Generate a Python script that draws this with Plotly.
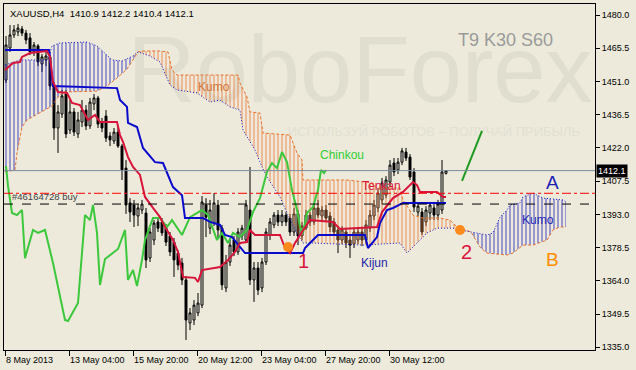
import plotly.graph_objects as go

# ---------------- data (bar index, prices) ----------------
bars = list(range(111))
opens = [1451.6,1465.6,1471.3,1472.6,1473.9,1472.1,1470.0,1463.9,1466.5,1458.6,
 1460.4,1461.7,1449.0,1430.7,1436.8,1445.5,1429.8,1437.7,1428.1,1433.3,
 1438.5,1431.6,1441.2,1443.8,1433.3,1435.9,1427.2,1425.0,1428.9,1422.8,
 1413.2,1398.0,1397.1,1392.3,1394.9,1393.6,1374.0,1381.8,1389.7,1389.7,
 1387.0,1383.6,1380.9,1376.1,1371.8,1364.4,1345.6,1346.9,1350.0,1353.4,
 1397.1,1387.0,1389.2,1397.1,1387.0,1360.9,1372.2,1381.8,1376.6,1383.6,
 1381.8,1394.9,1364.4,1369.6,1360.9,1372.2,1384.0,1388.4,1392.7,1389.7,
 1392.7,1391.4,1385.3,1393.2,1383.6,1387.0,1392.7,1389.7,1395.8,1392.3,
 1394.9,1392.3,1389.7,1386.2,1381.8,1385.3,1381.8,1380.1,1381.8,1385.3,
 1381.8,1387.0,1392.3,1395.8,1399.3,1401.4,1407.1,1415.4,1412.4,1415.8,
 1420.2,1418.0,1411.5,1394.0,1394.0,1389.7,1393.6,1395.8,1392.7,1394.9,
 1410.9]
highs = [1470.8,1475.6,1475.6,1476.1,1475.2,1473.5,1472.1,1468.2,1467.3,1463.0,
 1463.9,1462.5,1450.8,1440.7,1447.3,1447.3,1442.9,1439.4,1437.7,1442.9,
 1440.7,1443.8,1445.5,1444.7,1435.1,1438.5,1428.9,1430.7,1431.1,1423.7,
 1416.7,1400.1,1399.3,1397.5,1399.3,1395.8,1387.0,1390.5,1391.4,1391.4,
 1388.8,1385.3,1382.7,1377.4,1374.0,1366.1,1352.1,1355.6,1358.7,1401.0,
 1400.1,1399.3,1402.3,1399.3,1388.4,1375.3,1381.8,1383.6,1387.0,1388.4,
 1399.3,1413.7,1372.2,1372.2,1374.0,1387.0,1391.4,1394.0,1394.9,1394.9,
 1394.0,1393.2,1395.8,1394.9,1389.7,1394.9,1394.0,1397.5,1399.3,1396.6,
 1397.1,1394.0,1391.4,1387.9,1387.9,1387.0,1383.6,1387.0,1387.0,1387.0,
 1390.5,1394.9,1399.3,1404.5,1408.9,1409.7,1416.7,1417.6,1417.6,1422.0,
 1422.0,1419.3,1413.2,1398.4,1395.8,1396.6,1398.4,1397.5,1399.3,1416.7,
 1412.2]
lows = [1450.3,1463.9,1470.0,1470.8,1470.8,1467.3,1462.5,1462.1,1457.7,1455.1,
 1457.7,1447.3,1425.5,1419.8,1435.1,1426.3,1428.1,1427.2,1426.3,1431.1,
 1429.8,1430.3,1438.5,1430.7,1428.9,1424.6,1422.8,1423.7,1422.0,1408.0,
 1393.2,1389.7,1387.5,1387.9,1393.2,1369.6,1372.2,1379.6,1385.3,1383.6,
 1379.2,1374.8,1365.7,1368.7,1362.2,1338.2,1342.5,1344.7,1348.6,1352.1,
 1383.1,1384.4,1387.9,1382.7,1360.0,1359.1,1370.5,1374.8,1375.3,1381.8,
 1380.5,1362.2,1354.8,1357.8,1359.1,1370.9,1381.8,1387.0,1387.9,1387.9,
 1387.9,1383.6,1383.6,1379.6,1381.8,1386.2,1387.9,1388.4,1391.4,1390.5,
 1389.7,1385.3,1383.6,1376.1,1380.1,1378.3,1374.0,1378.3,1380.1,1379.2,
 1380.1,1385.3,1390.5,1394.0,1397.5,1400.1,1405.4,1409.7,1410.6,1414.5,
 1416.3,1408.0,1394.0,1392.3,1384.0,1387.9,1390.5,1390.5,1390.5,1393.2,
 1410.4]
closes = [1466.9,1471.3,1473.5,1474.3,1472.1,1469.1,1463.9,1466.9,1459.5,1461.7,
 1462.1,1449.0,1430.7,1437.7,1444.7,1428.1,1437.7,1428.9,1434.2,1438.5,
 1431.6,1442.0,1443.8,1432.4,1430.7,1426.3,1425.5,1428.9,1422.8,1412.4,
 1397.1,1394.0,1392.7,1395.8,1397.5,1373.1,1385.3,1389.2,1387.0,1384.9,
 1380.9,1376.6,1373.1,1370.9,1364.4,1346.9,1350.0,1353.4,1354.3,1398.4,
 1391.8,1394.9,1398.0,1386.2,1362.2,1372.2,1379.6,1376.6,1385.3,1387.0,
 1397.1,1364.4,1369.6,1360.0,1372.2,1385.3,1389.7,1392.7,1389.7,1392.7,
 1389.7,1385.3,1393.2,1383.6,1387.9,1392.7,1389.7,1395.8,1392.7,1394.9,
 1391.4,1387.5,1385.3,1381.8,1386.2,1380.5,1379.6,1385.3,1385.3,1381.8,
 1388.4,1392.7,1397.1,1402.3,1406.7,1408.0,1414.5,1411.5,1415.8,1420.7,
 1417.6,1409.3,1396.2,1396.6,1385.3,1394.9,1397.1,1392.7,1397.5,1411.5,
 1412.1]

tenkan_x = [-0.25,1.75,3.5,4,6,8.5,10.25,11,11.75,13,15.25,16.5,18.5,20.5,22.25,23.5,27.75,28.5,29.25,30.5,
 31.75,33.5,34.75,36.75,38.5,39.75,41.75,43,44.25,47.25,48,49,53.5,55.5,57.25,58.5,60.25,61,62.25,68.5,
 69.75,71,72.25,74,76,81.75,83.5,92.75,94,96.75,99.25,101.75,102.75,103.5,107.75,109.25,110]
tenkan_y = [1456.0,1459.1,1459.5,1461.7,1463.4,1463.9,1464.3,1461.7,1450.8,1446.4,1446.0,1441.6,1440.7,1434.2,1436.4,1433.3,1433.3,1427.6,1424.6,1418.0,
 1413.7,1410.2,1400.6,1395.8,1391.8,1387.5,1381.8,1376.6,1365.7,1365.3,1363.5,1368.7,1370.0,1373.1,1376.6,1380.5,1380.9,1386.2,1384.0,1384.0,
 1378.3,1376.1,1380.5,1385.3,1390.5,1389.7,1386.6,1387.5,1394.0,1400.1,1402.8,1407.1,1405.8,1402.8,1402.8,1400.6,1400.6]

kijun_x = [-0.25,10.75,11.75,27.75,28.5,30.25,30.5,32.75,34.25,37.25,39.25,41.75,44,44.75,49.25,51,53.5,54.75,56.5,57.75,
 59.75,74.25,74.75,76.75,78,89.75,90.5,92.75,93.5,95.25,96.75,99.25,110]
kijun_y = [1464.7,1464.7,1449.0,1448.1,1442.9,1439.9,1432.9,1431.1,1422.0,1415.8,1415.4,1404.9,1401.4,1391.4,1391.4,1389.7,1388.4,1384.0,1383.1,1380.5,
 1376.1,1376.1,1378.3,1381.8,1384.0,1384.0,1378.3,1383.1,1389.2,1394.9,1395.8,1398.0,1398.0]

chinkou_x = [0,0.5,1.5,2.75,4,4.75,6.75,8,9.75,11.75,14.75,15.5,18,19,19.75,21,21.75,22.75,23.5,24.75,
 26.5,28,29.75,30.5,31.75,32.75,34,34.75,36,36.75,38.5,40.25,41.5,42.75,44,46,49,50.5,52.75,54,
 55.5,56.75,58.5,60.25,61.75,63.5,65.25,66.5,67.75,69,70.25,71.5,72.75,73.5,74.25,75.25,76.75,78,78.75,79.5,80]
chinkou_y = [1414.1,1405.4,1393.6,1392.7,1394.9,1373.9,1386.2,1384.9,1386.2,1371.8,1346.9,1346.5,1354.3,1376.1,1392.7,1390.5,1397.1,1384.9,1362.2,1373.5,
 1376.1,1377.9,1386.2,1364.4,1368.7,1361.7,1373.1,1381.8,1387.9,1391.4,1391.4,1387.5,1390.5,1387.0,1384.0,1391.8,1394.9,1392.7,1381.8,1384.9,
 1380.5,1384.9,1383.1,1386.2,1394.0,1400.1,1411.5,1415.4,1413.2,1420.2,1415.8,1403.6,1394.9,1387.5,1384.9,1393.6,1396.2,1403.6,1412.4,1411.0,1412.4]

senkou_a_x = [-0.25,2.25,2.75,4,5.25,8.5,11.5,13,14.25,22.75,25.25,27.75,30.25,31.75,33,34.25,38.5,40.5,41.5,42.75,
 58,58.5,60.25,61,63.5,64.25,71,72.75,74,74.25,85.25,91.75,92.75,98.5,99.25,101.75,104.25,108.5,111,112.75,
 114.75,116.25,118.5,120.25,125.25,126.75,129.25,131.75,135.25,136.75,138.5,140]
senkou_a_y = [1411.5,1412.4,1419.8,1431.1,1434.2,1437.2,1440.3,1444.2,1446.4,1446.8,1449.0,1452.5,1456.4,1460.4,1463.9,1464.3,1464.3,1463.9,1456.0,1453.8,
 1453.8,1450.3,1444.2,1437.7,1437.2,1428.5,1427.6,1419.8,1416.7,1408.0,1408.0,1406.7,1404.5,1404.5,1399.3,1392.7,1391.4,1391.4,1390.5,1387.5,
 1386.2,1385.3,1378.7,1376.1,1375.3,1376.1,1379.6,1379.6,1381.8,1386.2,1387.5,1387.5]

senkou_b_x = [-0.25,3.5,10.5,11.5,13.5,20.25,22.75,25.25,26.5,29,31.75,33,36,38.5,41,42.75,47.75,48.5,51,53.5,
 56,58.5,59.25,62.25,64,65.25,68.5,70.25,72.75,74.25,76.75,89.25,98.5,100.25,101.75,105.25,107.75,111.75,114.75,116.25,
 120.25,121.75,123.5,125.25,126,128.5,129.25,131.75,134.25,139.25,140]
senkou_b_y = [1458.2,1460.4,1460.4,1466.5,1467.8,1468.2,1466.5,1462.5,1460.4,1459.9,1462.1,1463.9,1462.1,1459.5,1449.5,1447.3,1446.0,1445.1,1442.0,1442.9,
 1439.9,1438.5,1429.8,1421.1,1413.7,1409.3,1400.6,1393.6,1384.9,1380.5,1380.5,1379.6,1380.5,1376.1,1378.7,1384.9,1387.0,1387.0,1385.8,1385.3,
 1384.0,1384.9,1391.8,1394.9,1397.1,1398.0,1400.6,1402.3,1400.1,1399.3,1398.4]

# cloud regions: (start bar, end bar, colour) split where the spans cross
cloud_regions = [(-0.25, 33, "blue"), (33, 116.25, "orange"), (116.25, 140, "blue")]

current_price = 1412.1
order_price = 1397.5
tp_price = 1402.2

tick_bars = [-0.25, 15.75, 31.75, 47.75, 63.75, 79.75, 95.75]
tick_labels = ["8 May 2013", "13 May 04:00", "15 May 20:00", "20 May 12:00",
               "23 May 04:00", "27 May 20:00", "30 May 12:00"]
price_ticks = [1480.0, 1465.5, 1451.0, 1436.5, 1422.0, 1407.5, 1393.0, 1378.5, 1364.0, 1349.5, 1335.0]

signal_x = [70.5, 113.5]
signal_y = [1378.8, 1386.2]
trend_x = [114, 119]
trend_y = [1407.6, 1429.4]

# ---------------- styles ----------------
BG = "#EDEADB"
FONT = "Liberation Sans"
BLUE_HATCH = "#1E1EC0"
ORANGE_HATCH = "#EC7434"

fig = go.Figure()

# watermark (drawn first so it sits underneath)
fig.add_trace(go.Scatter(x=[88.5], y=[1452.5], mode="text", text=["RoboForex"],
                         textfont=dict(family=FONT, size=94, color="#E0DECF"),
                         hoverinfo="skip", showlegend=False))
fig.add_trace(go.Scatter(x=[107], y=[1428.5], mode="text",
                         text=["ИСПОЛЬЗУЙ РОБОТОВ – ПОЛУЧАЙ ПРИБЫЛЬ"],
                         textfont=dict(family=FONT, size=13, color="#E2E0D2"),
                         hoverinfo="skip", showlegend=False))

# hatched cloud
for lo, hi, col in cloud_regions:
    ax = [x for x in senkou_a_x if lo <= x <= hi]
    ay = [y for x, y in zip(senkou_a_x, senkou_a_y) if lo <= x <= hi]
    bx = [x for x in senkou_b_x if lo <= x <= hi]
    by = [y for x, y in zip(senkou_b_x, senkou_b_y) if lo <= x <= hi]
    c = BLUE_HATCH if col == "blue" else ORANGE_HATCH
    fig.add_trace(go.Scatter(x=ax + bx[::-1], y=ay + by[::-1], mode="lines",
                             fill="toself", line=dict(width=0, color="rgba(0,0,0,0)"),
                             fillcolor="rgba(0,0,0,0)",
                             fillpattern=dict(shape="|", fgcolor=c, bgcolor="rgba(0,0,0,0)",
                                              size=4, solidity=0.25, fgopacity=0.8),
                             hoverinfo="skip", showlegend=False))

fig.add_trace(go.Scatter(x=senkou_a_x, y=senkou_a_y, mode="lines",
                         line=dict(color="#E8742C", width=1, dash="3px,2px"),
                         hoverinfo="skip", showlegend=False))
fig.add_trace(go.Scatter(x=senkou_b_x, y=senkou_b_y, mode="lines",
                         line=dict(color="#1515C8", width=1, dash="1px,2px"),
                         hoverinfo="skip", showlegend=False))

# candles
fig.add_trace(go.Candlestick(x=bars, open=opens, high=highs, low=lows, close=closes,
                             increasing=dict(line=dict(color="#000000", width=1), fillcolor="#F4F2E8"),
                             decreasing=dict(line=dict(color="#000000", width=1), fillcolor="#000000"),
                             whiskerwidth=0, showlegend=False, hoverinfo="skip"))

# Ichimoku lines
fig.add_trace(go.Scatter(x=chinkou_x, y=chinkou_y, mode="lines",
                         line=dict(color="#3CC83C", width=2), hoverinfo="skip", showlegend=False))
fig.add_trace(go.Scatter(x=kijun_x, y=kijun_y, mode="lines",
                         line=dict(color="#0A0ACD", width=2), hoverinfo="skip", showlegend=False))
fig.add_trace(go.Scatter(x=tenkan_x, y=tenkan_y, mode="lines",
                         line=dict(color="#D8143A", width=2), hoverinfo="skip", showlegend=False))

# analyst markup
fig.add_trace(go.Scatter(x=signal_x, y=signal_y, mode="markers",
                         marker=dict(color="#FF8A1E", size=10, line=dict(width=0)),
                         hoverinfo="skip", showlegend=False))
fig.add_trace(go.Scatter(x=trend_x, y=trend_y, mode="lines",
                         line=dict(color="#1E9A1E", width=2), hoverinfo="skip", showlegend=False))

shapes = [
    dict(type="line", xref="paper", x0=0, x1=1, yref="y", y0=current_price, y1=current_price,
         line=dict(color="#7A8CA0", width=1)),
    dict(type="line", xref="paper", x0=0, x1=1, yref="y", y0=tp_price, y1=tp_price,
         line=dict(color="#FF0000", width=1, dash="dashdot")),
    dict(type="line", xref="paper", x0=0, x1=1, yref="y", y0=order_price, y1=order_price,
         line=dict(color="#000000", width=1, dash="dash")),
]

ann = []
def label(x, y, text, color, size, xanchor="left", yanchor="middle", xref="x", yref="y", **kw):
    d = dict(x=x, y=y, xref=xref, yref=yref, text=text, showarrow=False,
             font=dict(family=FONT, size=size, color=color), xanchor=xanchor, yanchor=yanchor)
    d.update(kw)
    ann.append(d)

label(0.006, 0.995, "XAUUSD,H4  1410.9 1412.2 1410.4 1412.1", "#000000", 9.5,
      xref="paper", yref="paper", yanchor="top")
label(0.848, 0.896, "T9 K30 S60", "#9A9A9A", 18, xanchor="center", xref="paper", yref="paper")
label(1.0, 1400.6, "#46164728 buy", "#444444", 9.5, xref="x", xshift=0)
label(78, 1419.0, "Chinkou", "#32CD32", 12)
label(88.5, 1405.5, "Tenkan", "#DC143C", 12)
label(88.3, 1372.0, "Kijun", "#1E1EA8", 12)
label(47.5, 1448.5, "Kumo", "#D0763A", 12)
label(128.5, 1390.5, "Kumo", "#2828B8", 12)
label(134.5, 1407.0, "A", "#1E1EB4", 19)
label(134.5, 1373.5, "B", "#FF8C00", 19)
label(72.5, 1372.5, "1", "#DC143C", 20)
label(113.3, 1376.5, "2", "#DC143C", 20)
# current price box on the axis
ann.append(dict(xref="paper", x=1.0, y=current_price, yref="y", text="1412.1", showarrow=False,
                xanchor="left", yanchor="middle", xshift=1,
                font=dict(family=FONT, size=9, color="#FFFFFF"), bgcolor="#000000", borderpad=1))
# date labels to the right of each tick
for tb, tl in zip(tick_bars, tick_labels):
    ann.append(dict(x=tb, xref="x", y=0, yref="paper", text=tl, showarrow=False,
                    xanchor="left", yanchor="top", yshift=-3, xshift=-1,
                    font=dict(family=FONT, size=9, color="#000000")))

fig.update_layout(
    width=636, height=370,
    margin=dict(l=4, r=41, t=4, b=20),
    paper_bgcolor=BG, plot_bgcolor=BG,
    showlegend=False,
    shapes=shapes, annotations=ann,
    xaxis=dict(range=[-0.5, 147.25], showgrid=False, zeroline=False,
               tickvals=tick_bars, ticktext=[""] * len(tick_bars),
               ticks="outside", ticklen=5, tickcolor="#000000",
               showline=True, linecolor="#000000", linewidth=1, mirror=True,
               rangeslider=dict(visible=False), fixedrange=True),
    yaxis=dict(range=[1333.82, 1484.8], side="right", showgrid=False, zeroline=False,
               tickvals=price_ticks, ticktext=[f"{v:.1f}" for v in price_ticks],
               ticks="outside", ticklen=4, tickcolor="#000000",
               tickfont=dict(family=FONT, size=9, color="#000000"),
               showline=True, linecolor="#000000", linewidth=1, mirror=True, fixedrange=True),
)

fig.write_html("out.html")
